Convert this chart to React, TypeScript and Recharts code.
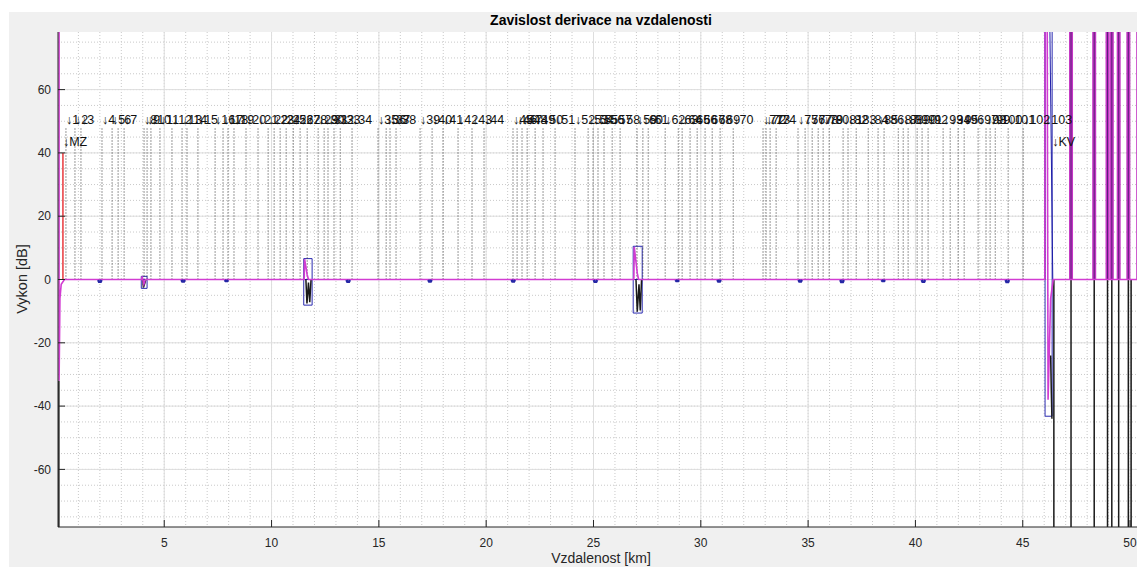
import React from 'react';
import { ComposedChart, Line, Scatter, XAxis, YAxis, CartesianGrid, ReferenceArea } from 'recharts';

const FONT = '"Liberation Sans", Arial, Helvetica, sans-serif';

const xDomain = [0.05, 50.65];
const yDomain = [-78.2, 78.2];
const xTicks = [5, 10, 15, 20, 25, 30, 35, 40, 45, 50];
const yTicks = [-60, -40, -20, 0, 20, 40, 60];
const xMinor = [1, 2, 3, 4, 5, 6, 7, 8, 9, 10, 11, 12, 13, 14, 15, 16, 17, 18, 19, 20, 21, 22, 23, 24, 25, 26, 27, 28, 29, 30, 31, 32, 33, 34, 35, 36, 37, 38, 39, 40, 41, 42, 43, 44, 45, 46, 47, 48, 49, 50];
const yMinor = [-75, -70, -65, -60, -55, -50, -45, -40, -35, -30, -25, -20, -15, -10, -5, 0, 5, 10, 15, 20, 25, 30, 35, 40, 45, 50, 55, 60, 65, 70, 75];

// event positions [km] for markers 1..103
const eventKm = [
  0.42, 0.84, 1.12, 2.10, 2.57, 2.85, 3.13, 4.06, 4.20, 4.38,
  4.80, 5.36, 5.83, 6.06, 6.57, 7.37, 7.74, 7.97, 8.25, 8.81,
  9.37, 9.84, 10.12, 10.40, 10.68, 11.01, 11.33, 11.66, 12.17, 12.45,
  12.63, 12.91, 13.20, 13.75, 14.96, 15.34, 15.52, 15.80, 16.92, 17.48,
  17.99, 18.69, 19.34, 19.90, 21.25, 21.44, 21.67, 21.91, 22.28, 22.65,
  23.21, 24.14, 24.75, 24.98, 25.21, 25.49, 25.87, 26.24, 27.03, 27.30,
  27.55, 28.34, 28.95, 29.13, 29.50, 29.83, 30.20, 30.53, 30.90, 31.51,
  32.90, 33.04, 33.23, 33.51, 34.53, 34.86, 35.19, 35.47, 35.70, 35.98,
  36.63, 36.86, 37.24, 37.80, 38.26, 38.54, 39.20, 39.43, 39.66, 40.08,
  40.31, 40.59, 41.29, 41.62, 41.99, 42.27, 42.92, 43.29, 43.48, 43.72,
  44.32, 45.02, 46.04,
];
const markerTopDb = 48;
const labelDb = 50.3;

const endNames = ['MZ', 'KV'];
const endKm = [0.28, 46.37];
const endLabelDb = 43.5;

// red MZ line
const redKm = [0.28, 0.28];
const redDb = [40, 0];

// magenta trace
const magentaKm = [0.1, 0.1, 0.14, 0.2, 0.35, 3.95, 3.97, 4.05, 4.12, 11.52, 11.54, 11.66, 11.72, 26.88, 26.9, 27.04, 27.1, 46.03, 46.05, 46.1, 46.18, 46.3, 46.42, 50.65];
const magentaDb = [200, -32, -6, -1.5, 0, 0, 1.0, -1.5, 0, 0, 6.4, 1.5, 0, 0, 10.3, 2, 0, 0, 200, 200, -38, -6, 0, 0];

// blue trace dips
const blueDipKm = [2.0, 5.88, 7.9, 13.57, 17.38, 21.26, 25.09, 28.9, 30.85, 34.63, 36.58, 38.5, 40.37, 44.28];
const blueDipDb = [-0.7, -0.6, -0.5, -0.7, -0.6, -0.6, -0.7, -0.5, -0.6, -0.6, -0.8, -0.5, -0.7, -0.8];

// black trace (null = break)
const blackKm = [0.09, 0.09, 0.09, 4.0, 4.03, 4.1, 4.14, 4.14, 11.6, 11.65, 11.72, 11.78, 11.84, 11.84, 26.98, 27.04, 27.12, 27.18, 27.24, 27.24, 46.3, 46.33, 46.36, 46.36, 46.45, 46.45, 46.45];
const blackDb = [-32, -200, null, 0, -2.5, -1, 0, null, 0, -7.6, -1, -7.2, 0, null, 0, -10.2, -1.5, -9.8, 0, null, -24, -35, -44, null, 0, -200, null];

// right-hand saturated spikes
const spikeKm = [47.25, 48.33, 48.95, 49.15, 49.47, 49.92, 50.38, 50.62];
const spikeBlackOnlyKm = [50.05];

// blue event boxes
const boxKmStart = [3.93, 11.5, 26.85, 46.04];
const boxKmEnd = [4.2, 11.89, 27.27, 46.37];
const boxDbTop = [1.0, 6.6, 10.5, 200];
const boxDbBottom = [-2.8, -8.1, -10.6, -43.2];

const pts = (xs: number[], ys: (number | null)[]) => xs.map((x, i) => ({ x, y: ys[i] }));

const magentaData = pts(magentaKm, magentaDb);
const redData = pts(redKm, redDb);
const blackData = pts(blackKm, blackDb);

const blueBaseData = [
  { x: 0.3, y: 0 }, { x: 46.03, y: 0 }, { x: 46.05, y: 200 }, { x: 46.06, y: 200 }, { x: 46.4, y: 0 }, { x: 50.65, y: 0 },
];
const blueDipData: { x: number; y: number | null }[] = [];
blueDipKm.forEach((d, i) => {
  blueDipData.push(
    { x: d - 0.08, y: -0.15 }, { x: d - 0.04, y: blueDipDb[i] }, { x: d + 0.04, y: blueDipDb[i] }, { x: d + 0.08, y: -0.15 }, { x: d + 0.08, y: null },
  );
});

const markerData: { x: number; y: number | null }[] = [];
eventKm.forEach((p) => {
  markerData.push({ x: p, y: 0 }, { x: p, y: markerTopDb }, { x: p, y: null });
});

const spikeUpData: { x: number; y: number | null }[] = [];
spikeKm.forEach((p) => {
  spikeUpData.push({ x: p, y: 0 }, { x: p, y: 200 }, { x: p, y: null });
});
const spikeDownData: { x: number; y: number | null }[] = [];
[...spikeKm, ...spikeBlackOnlyKm].forEach((p) => {
  spikeDownData.push({ x: p, y: 0 }, { x: p, y: -200 }, { x: p, y: null });
});

const labelData = eventKm.map((x, i) => ({ x, y: labelDb, name: String(i + 1) }));
const endLabelData = endKm.map((x, i) => ({ x, y: endLabelDb, name: endNames[i] }));

const renderLabel = (props: any) => {
  const { cx, cy, payload } = props;
  if (cx == null || cy == null) return <g />;
  return (
    <text x={cx} y={cy} dominantBaseline="central" fontSize={12.5} fill="#111" fontFamily={FONT}>
      {'\u2193' + payload.name}
    </text>
  );
};

const tickStyle = { fill: '#262626', fontSize: 12, fontFamily: FONT };

export default function App() {
  return (
    <div style={{ paddingTop: 4, paddingLeft: 1 }}>
      <div style={{ position: 'relative', width: 1136, height: 555, background: '#f0f0f0', fontFamily: FONT, overflow: 'hidden' }}>
        <ComposedChart width={1136} height={555} margin={{ top: 20, right: 1, bottom: 0, left: 0 }}>
          <CartesianGrid verticalValues={xMinor} horizontalValues={yMinor} stroke="#c9c9c9" strokeDasharray="1 2" fill="#ffffff" />
          <CartesianGrid verticalValues={xTicks} horizontalValues={yTicks} stroke="#dedede" />
          <XAxis type="number" dataKey="x" domain={xDomain} ticks={xTicks} allowDataOverflow height={40}
            tickSize={-7} tickMargin={18} stroke="#262626" tick={tickStyle} interval={0} />
          <XAxis xAxisId="top" orientation="top" type="number" dataKey="x" domain={xDomain} ticks={xTicks}
            allowDataOverflow height={0} tickSize={-7} tick={false} stroke="#262626" />
          <YAxis type="number" dataKey="y" domain={yDomain} ticks={yTicks} allowDataOverflow width={49}
            tickSize={-7} tickMargin={14} stroke="#262626" tick={tickStyle} interval={0} />
          <YAxis yAxisId="right" orientation="right" type="number" dataKey="y" domain={yDomain} ticks={yTicks}
            allowDataOverflow width={0} tickSize={-7} tick={false} stroke="#262626" />
          {boxKmStart.map((s, i) => (
            <ReferenceArea key={'box' + i} x1={s} x2={boxKmEnd[i]} y1={boxDbBottom[i]} y2={boxDbTop[i]}
              ifOverflow="hidden" fill="none" stroke="#2a2ab0" strokeWidth={1} />
          ))}
          <Line data={markerData} dataKey="y" type="linear" stroke="#333" strokeWidth={1} strokeDasharray="1 2"
            dot={false} activeDot={false} isAnimationActive={false} connectNulls={false} />
          <Line data={blueBaseData} dataKey="y" type="linear" stroke="#1f1fa8" strokeWidth={1}
            dot={false} activeDot={false} isAnimationActive={false} />
          <Line data={spikeDownData} dataKey="y" type="linear" stroke="#1a1a1a" strokeWidth={1.5}
            dot={false} activeDot={false} isAnimationActive={false} connectNulls={false} />
          <Line data={blackData} dataKey="y" type="linear" stroke="#1a1a1a" strokeWidth={1.5}
            dot={false} activeDot={false} isAnimationActive={false} connectNulls={false} />
          <Line data={spikeUpData} dataKey="y" type="linear" stroke="#c436c4" strokeWidth={4}
            dot={false} activeDot={false} isAnimationActive={false} connectNulls={false} />
          <Line data={spikeUpData} dataKey="y" type="linear" stroke="#5a1f7a" strokeWidth={1}
            dot={false} activeDot={false} isAnimationActive={false} connectNulls={false} />
          <Line data={magentaData} dataKey="y" type="linear" stroke="#d23cd2" strokeWidth={1.6}
            dot={false} activeDot={false} isAnimationActive={false} />
          <Line data={blueDipData} dataKey="y" type="linear" stroke="#2626a6" strokeWidth={2.5}
            dot={false} activeDot={false} isAnimationActive={false} connectNulls={false} />
          <Line data={redData} dataKey="y" type="linear" stroke="#e8383c" strokeWidth={1.5}
            dot={false} activeDot={false} isAnimationActive={false} />
          <Scatter data={labelData} dataKey="y" shape={renderLabel} isAnimationActive={false} />
          <Scatter data={endLabelData} dataKey="y" shape={renderLabel} isAnimationActive={false} />
        </ComposedChart>
        <div style={{ position: 'absolute', left: 49, width: 1086, top: 0, lineHeight: '16px', textAlign: 'center', fontWeight: 'bold', fontSize: 14, color: '#000' }}>
          Zavislost derivace na vzdalenosti
        </div>
        <div style={{ position: 'absolute', left: 49, width: 1086, top: 538, lineHeight: '16px', textAlign: 'center', fontSize: 14, color: '#262626' }}>
          Vzdalenost [km]
        </div>
        <div style={{ position: 'absolute', left: 13, top: 267, lineHeight: '16px', fontSize: 14.5, color: '#262626', whiteSpace: 'nowrap', transform: 'translate(-50%, -50%) rotate(-90deg)' }}>
          Vykon [dB]
        </div>
      </div>
    </div>
  );
}
